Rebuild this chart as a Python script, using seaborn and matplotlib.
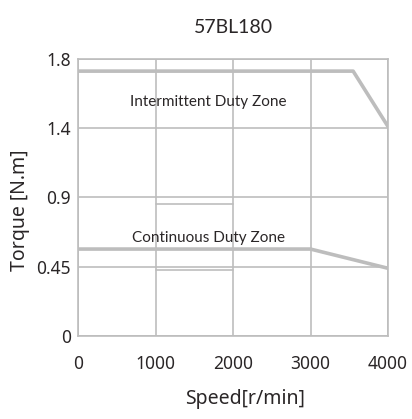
import numpy as np
import pandas as pd
import matplotlib
matplotlib.use("Agg")
import matplotlib.pyplot as plt
import seaborn as sns

# chart data
title = "57BL180"
y_ticks = [0, 0.45, 0.9, 1.4, 1.8]
x_ticks = [0, 1000, 2000, 3000, 4000]

peak_speed = [0, 3550, 4000]
peak_torque = [1.73, 1.73, 1.41]

rated_speed = [0, 3000, 4000]
rated_torque = [0.565, 0.565, 0.44]

# faint box lines between 1000 and 2000 r/min
box_speed = [1000, 2000]
box_upper = [0.86, 0.86]
box_lower = [0.43, 0.43]

zone_labels = ["Intermittent Duty Zone", "Continuous Duty Zone"]
zone_x = [1680, 1680]
zone_y = [1.55, 0.64]

peak = pd.DataFrame({"speed": peak_speed, "torque": peak_torque})
rated = pd.DataFrame({"speed": rated_speed, "torque": rated_torque})

sns.set_theme(style="white")
plt.rcParams['font.family'] = ['Noto Sans', 'DejaVu Sans']

grey = "#bdbdbd"
ink = "#2a2627"
fig = plt.figure(figsize=(4.12, 4.19), dpi=100)
ax = fig.add_axes([78 / 412, 1 - 336 / 419, 310 / 412, 277 / 419])

# the y axis spaces the tick values evenly (piecewise linear)
idx = np.arange(len(y_ticks), dtype=float)
ax.set_yscale("function",
              functions=(lambda v: np.interp(v, y_ticks, idx),
                         lambda v: np.interp(v, idx, y_ticks)))

sns.lineplot(data=peak, x="speed", y="torque", ax=ax, color=grey, lw=2.6)
sns.lineplot(data=rated, x="speed", y="torque", ax=ax, color=grey, lw=2.6)
ax.plot(box_speed, box_upper, color=grey, lw=1.2)
ax.plot(box_speed, box_lower, color=grey, lw=1.2)

for lab, xx, yy in zip(zone_labels, zone_x, zone_y):
    ax.text(xx, yy, lab, ha="center", va="center", fontsize=11,
            family=["Lato", "DejaVu Sans"], color=ink)

ax.set_xlim(0, 4000)
ax.set_ylim(0, 1.8)
ax.set_xticks(x_ticks)
ax.set_yticks(y_ticks)
ax.set_yticklabels(["0", "0.45", "0.9", "1.4", "1.8"])
ax.grid(True, color=grey, lw=1.2)
for s in ax.spines.values():
    s.set_color(grey)
    s.set_linewidth(1.2)
ax.tick_params(axis="both", labelsize=12.5, colors=ink, length=0)
ax.tick_params(axis="x", pad=14)
ax.tick_params(axis="y", pad=5)

ax.set_xlabel("Speed[r/min]", fontsize=14, color=ink)
ax.set_ylabel("Torque [N.m]", fontsize=14, color=ink)
ax.xaxis.set_label_coords(0.539, -0.19)
ax.yaxis.set_label_coords(-0.155, 0.455)
ax.set_title(title, fontsize=14, color=ink, pad=19, family=["Lato", "DejaVu Sans"])

fig.savefig("out.png", dpi=100)
